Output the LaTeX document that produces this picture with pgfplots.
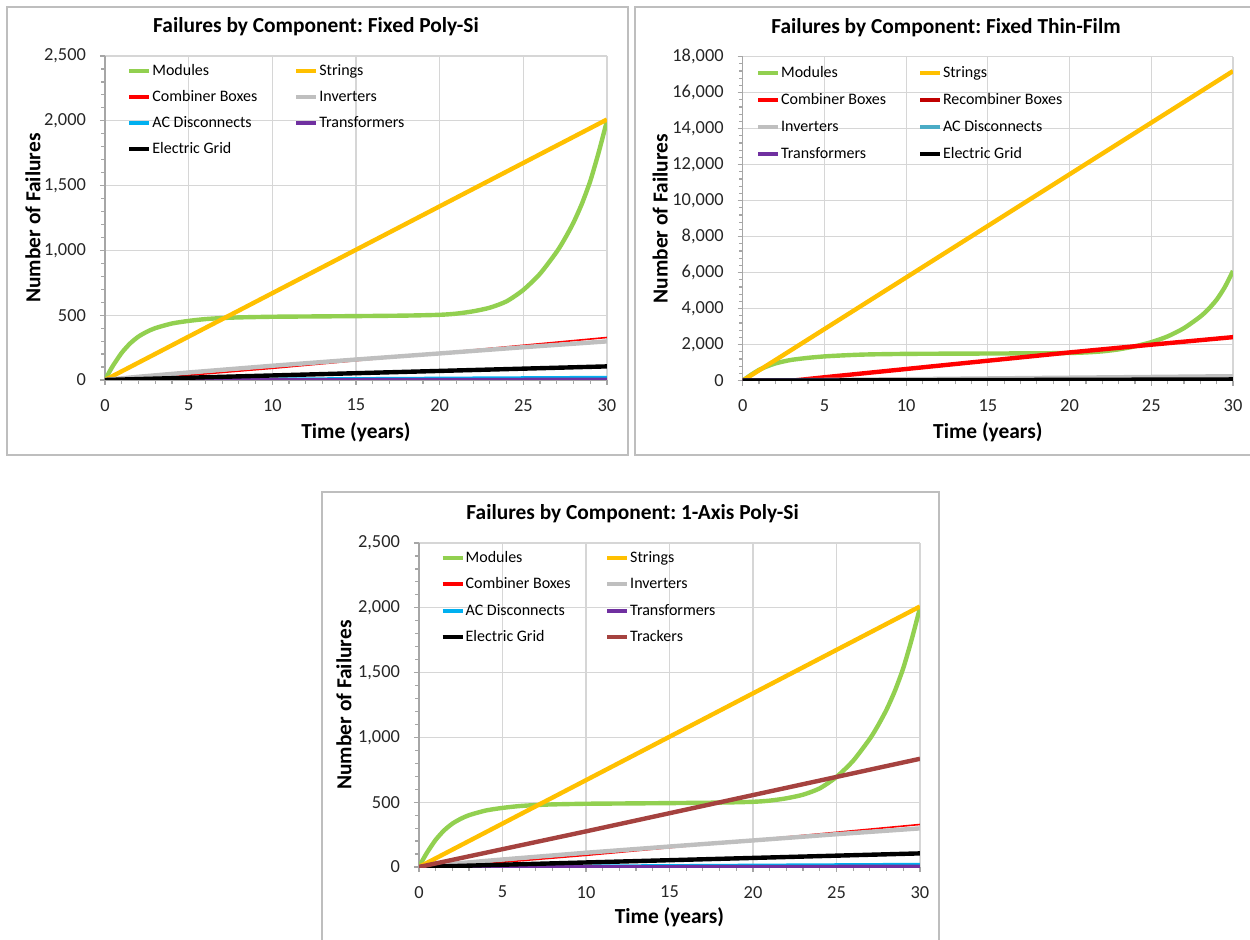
\documentclass[border=0pt]{standalone}
\usepackage{fontspec}
\setmainfont{Carlito}
\usepackage{pgfplots}
\usepackage{pgfplotstable}
\pgfplotsset{compat=1.18}
\frenchspacing

\definecolor{modgreen}{RGB}{146,208,80}
\definecolor{strorange}{RGB}{255,192,0}
\definecolor{cbred}{RGB}{255,0,0}
\definecolor{recred}{RGB}{192,0,0}
\definecolor{invgray}{RGB}{191,191,191}
\definecolor{acblue}{RGB}{0,176,240}
\definecolor{acteal}{RGB}{75,172,198}
\definecolor{trpurple}{RGB}{112,48,160}
\definecolor{trackbrown}{RGB}{165,66,63}
\definecolor{framegray}{RGB}{190,190,190}

% Modules, poly-Si (fixed and 1-axis)
\pgfplotstableread{
t v
0 0
0.25 60
0.5 115
1 210
1.5 282
2 335
2.5 372
3 400
4 436
5 456
6 470
7 478
8 483
10 488
12 490
15 493
18 497
20 503
21 512
22 530
23 558
24 607
25 695
26 820
27 990
27.5 1095
28 1215
28.5 1360
29 1535
29.5 1755
30 2000
}\modsi

% Modules, thin-film
\pgfplotstableread{
t v
0 0
0.5 320
1 600
1.5 800
2 960
2.5 1070
3 1160
4 1270
5 1350
6 1400
7 1440
8 1465
10 1490
12 1500
15 1510
18 1520
20 1540
21 1570
22 1630
23 1740
24 1910
25 2140
26 2460
27 2920
28 3560
28.5 3980
29 4500
29.5 5200
30 6100
}\modtf

\pgfplotsset{
  failstyle/.style={
    scale only axis,
    xmin=0, xmax=30, ymin=0,
    xtick={0,5,...,30},
    minor x tick num=4,
    minor y tick num=4,
    axis x line*=bottom, axis y line*=left,
    axis line style={draw=black!35, line width=0.6pt},
    every tick/.style={draw=black!35, line width=0.6pt},
    major tick length=2.5pt, minor tick length=1.8pt,
    tick align=outside,
    grid=major,
    major grid style={draw=black!16, line width=0.6pt},
    ticklabel style={font=\fontsize{9.2}{11}\selectfont, text=black!85},
    /pgf/number format/assume math mode=true,
    /pgf/number format/1000 sep={,},
    scaled y ticks=false,
    xticklabel shift=3.5pt,
    yticklabel shift=3.5pt,
    label style={font=\bfseries\fontsize{10.7}{12.8}\selectfont},
    legend columns=2,
    legend cell align=left,
    legend image code/.code={\draw[#1] (0pt,0pt) -- (10pt,0pt);},
    every axis plot/.append style={line join=round},
  },
  legstyle/.style n args={4}{
    legend style={at={(axis description cs:#1,#2)}, anchor=north west,
      draw=none, fill=none, inner sep=0pt,
      font=\fontsize{8}{9.6}\selectfont,
      nodes={inner sep=0.5pt, text height=6pt, text depth=1.5pt},
      row sep=#3, column sep=0pt,
      /tikz/every even column/.append style={column sep=#4}},
  },
}

\begin{document}
\begin{tikzpicture}
\path[use as bounding box] (0pt,0pt) rectangle (625pt,469.5pt);

% frames
\draw[framegray, line width=0.6pt] (3.5pt,242pt) rectangle (314pt,466pt);
\draw[framegray, line width=0.6pt] (317.5pt,242pt) rectangle (632pt,466pt);
\draw[framegray, line width=0.6pt] (161pt,-3pt) -- (161pt,223.5pt) -- (469.5pt,223.5pt) -- (469.5pt,-3pt);

% titles
\node[font=\bfseries\fontsize{10.7}{12.8}\selectfont] at (158pt,456pt) {Failures by Component: Fixed Poly-Si};
\node[font=\bfseries\fontsize{10.7}{12.8}\selectfont] at (473pt,455.5pt) {Failures by Component: Fixed Thin-Film};
\node[font=\bfseries\fontsize{10.7}{12.8}\selectfont] at (316.3pt,212.9pt) {Failures by Component: 1-Axis Poly-Si};

% ---------- Panel 1: Fixed Poly-Si ----------
\begin{axis}[failstyle,
  at={(52.5pt,279.5pt)}, anchor=south west,
  width=251pt, height=162pt,
  ymax=2500, ytick={0,500,...,2500},
  xlabel={Time (years)}, ylabel={Number of Failures},
  xlabel style={at={(axis description cs:0.5,0)}, anchor=center, yshift=-26pt},
  ylabel style={at={(axis description cs:-0.1434,0.5)}, anchor=center},
  legstyle={0.0438}{0.9815}{4.5pt}{18pt},
]
\addplot[forget plot, modgreen, line width=2.2pt, smooth, tension=0.4] table[x=t,y=v] {\modsi};
\addplot[forget plot, strorange, line width=2.2pt] coordinates {(0,0) (30,2010)};
\addplot[forget plot, cbred, line width=0.8pt] coordinates {(0,0) (2,5) (10,90) (20,208) (30,328)};
\addplot[forget plot, invgray, line width=2.2pt] coordinates {(0,0) (2,25) (5,58) (10,110) (15,158) (20,205) (25,253) (30,298)};
\addplot[forget plot, acblue, line width=1.6pt] coordinates {(0,0) (30,20)};
\addplot[forget plot, trpurple, line width=1.6pt] coordinates {(0,0) (30,6)};
\addplot[forget plot, black, line width=2.2pt] coordinates {(0,0) (10,35) (20,70) (30,105)};
\addlegendimage{modgreen, line width=2pt}\addlegendentry{Modules}
\addlegendimage{strorange, line width=2pt}\addlegendentry{Strings}
\addlegendimage{cbred, line width=2pt}\addlegendentry{Combiner Boxes}
\addlegendimage{invgray, line width=2pt}\addlegendentry{Inverters}
\addlegendimage{acblue, line width=2pt}\addlegendentry{AC Disconnects}
\addlegendimage{trpurple, line width=2pt}\addlegendentry{Transformers}
\addlegendimage{black, line width=2pt}\addlegendentry{Electric Grid}
\end{axis}

% ---------- Panel 2: Fixed Thin-Film ----------
\begin{axis}[failstyle,
  at={(371.35pt,279.15pt)}, anchor=south west,
  width=245.15pt, height=162pt,
  ymax=18000, ytick={0,2000,...,18000},
  xlabel={Time (years)}, ylabel={Number of Failures},
  xlabel style={at={(axis description cs:0.5,0)}, anchor=center, yshift=-26pt},
  ylabel style={at={(axis description cs:-0.1684,0.5)}, anchor=center},
  legstyle={0.0265}{0.9765}{4.9pt}{15.5pt},
]
\addplot[forget plot, modgreen, line width=2.2pt, smooth, tension=0.4] table[x=t,y=v] {\modtf};
\addplot[forget plot, strorange, line width=2.2pt] coordinates {(0,0) (30,17200)};
\addplot[forget plot, cbred, line width=2.2pt] coordinates {(0,0) (3,0) (5,190) (10,650) (15,1110) (20,1570) (25,2000) (30,2420)};
\addplot[forget plot, recred, line width=2.2pt] coordinates {(0,0) (30,30)};
\addplot[forget plot, invgray, line width=2.2pt] coordinates {(0,0) (30,250)};
\addplot[forget plot, acteal, line width=2.2pt] coordinates {(0,0) (30,15)};
\addplot[forget plot, trpurple, line width=2.2pt] coordinates {(0,0) (30,5)};
\addplot[forget plot, black, line width=2.2pt] coordinates {(0,0) (30,70)};
\addlegendimage{modgreen, line width=2pt}\addlegendentry{Modules}
\addlegendimage{strorange, line width=2pt}\addlegendentry{Strings}
\addlegendimage{cbred, line width=2pt}\addlegendentry{Combiner Boxes}
\addlegendimage{recred, line width=2pt}\addlegendentry{Recombiner Boxes}
\addlegendimage{invgray, line width=2pt}\addlegendentry{Inverters}
\addlegendimage{acteal, line width=2pt}\addlegendentry{AC Disconnects}
\addlegendimage{trpurple, line width=2pt}\addlegendentry{Transformers}
\addlegendimage{black, line width=2pt}\addlegendentry{Electric Grid}
\end{axis}

% ---------- Panel 3: 1-Axis Poly-Si ----------
\begin{axis}[failstyle,
  at={(209.5pt,36pt)}, anchor=south west,
  width=250.5pt, height=162pt,
  ymax=2500, ytick={0,500,...,2500},
  xlabel={Time (years)}, ylabel={Number of Failures},
  xlabel style={at={(axis description cs:0.5,0)}, anchor=center, yshift=-25pt},
  ylabel style={at={(axis description cs:-0.150,0.5)}, anchor=center},
  legstyle={0.0425}{0.9815}{4.75pt}{16.8pt},
]
\addplot[forget plot, modgreen, line width=2.2pt, smooth, tension=0.4] table[x=t,y=v] {\modsi};
\addplot[forget plot, strorange, line width=2.2pt] coordinates {(0,0) (30,2010)};
\addplot[forget plot, cbred, line width=0.8pt] coordinates {(0,0) (2,5) (10,90) (20,208) (30,328)};
\addplot[forget plot, invgray, line width=2.2pt] coordinates {(0,0) (2,25) (5,58) (10,110) (15,158) (20,205) (25,253) (30,298)};
\addplot[forget plot, acblue, line width=1.6pt] coordinates {(0,0) (30,20)};
\addplot[forget plot, trpurple, line width=1.6pt] coordinates {(0,0) (30,6)};
\addplot[forget plot, black, line width=2.2pt] coordinates {(0,0) (10,35) (20,70) (30,105)};
\addplot[forget plot, trackbrown, line width=2.2pt] coordinates {(0,0) (10,275) (20,555) (30,835)};
\addlegendimage{modgreen, line width=2pt}\addlegendentry{Modules}
\addlegendimage{strorange, line width=2pt}\addlegendentry{Strings}
\addlegendimage{cbred, line width=2pt}\addlegendentry{Combiner Boxes}
\addlegendimage{invgray, line width=2pt}\addlegendentry{Inverters}
\addlegendimage{acblue, line width=2pt}\addlegendentry{AC Disconnects}
\addlegendimage{trpurple, line width=2pt}\addlegendentry{Transformers}
\addlegendimage{black, line width=2pt}\addlegendentry{Electric Grid}
\addlegendimage{trackbrown, line width=2pt}\addlegendentry{Trackers}
\end{axis}
\end{tikzpicture}
\end{document}
